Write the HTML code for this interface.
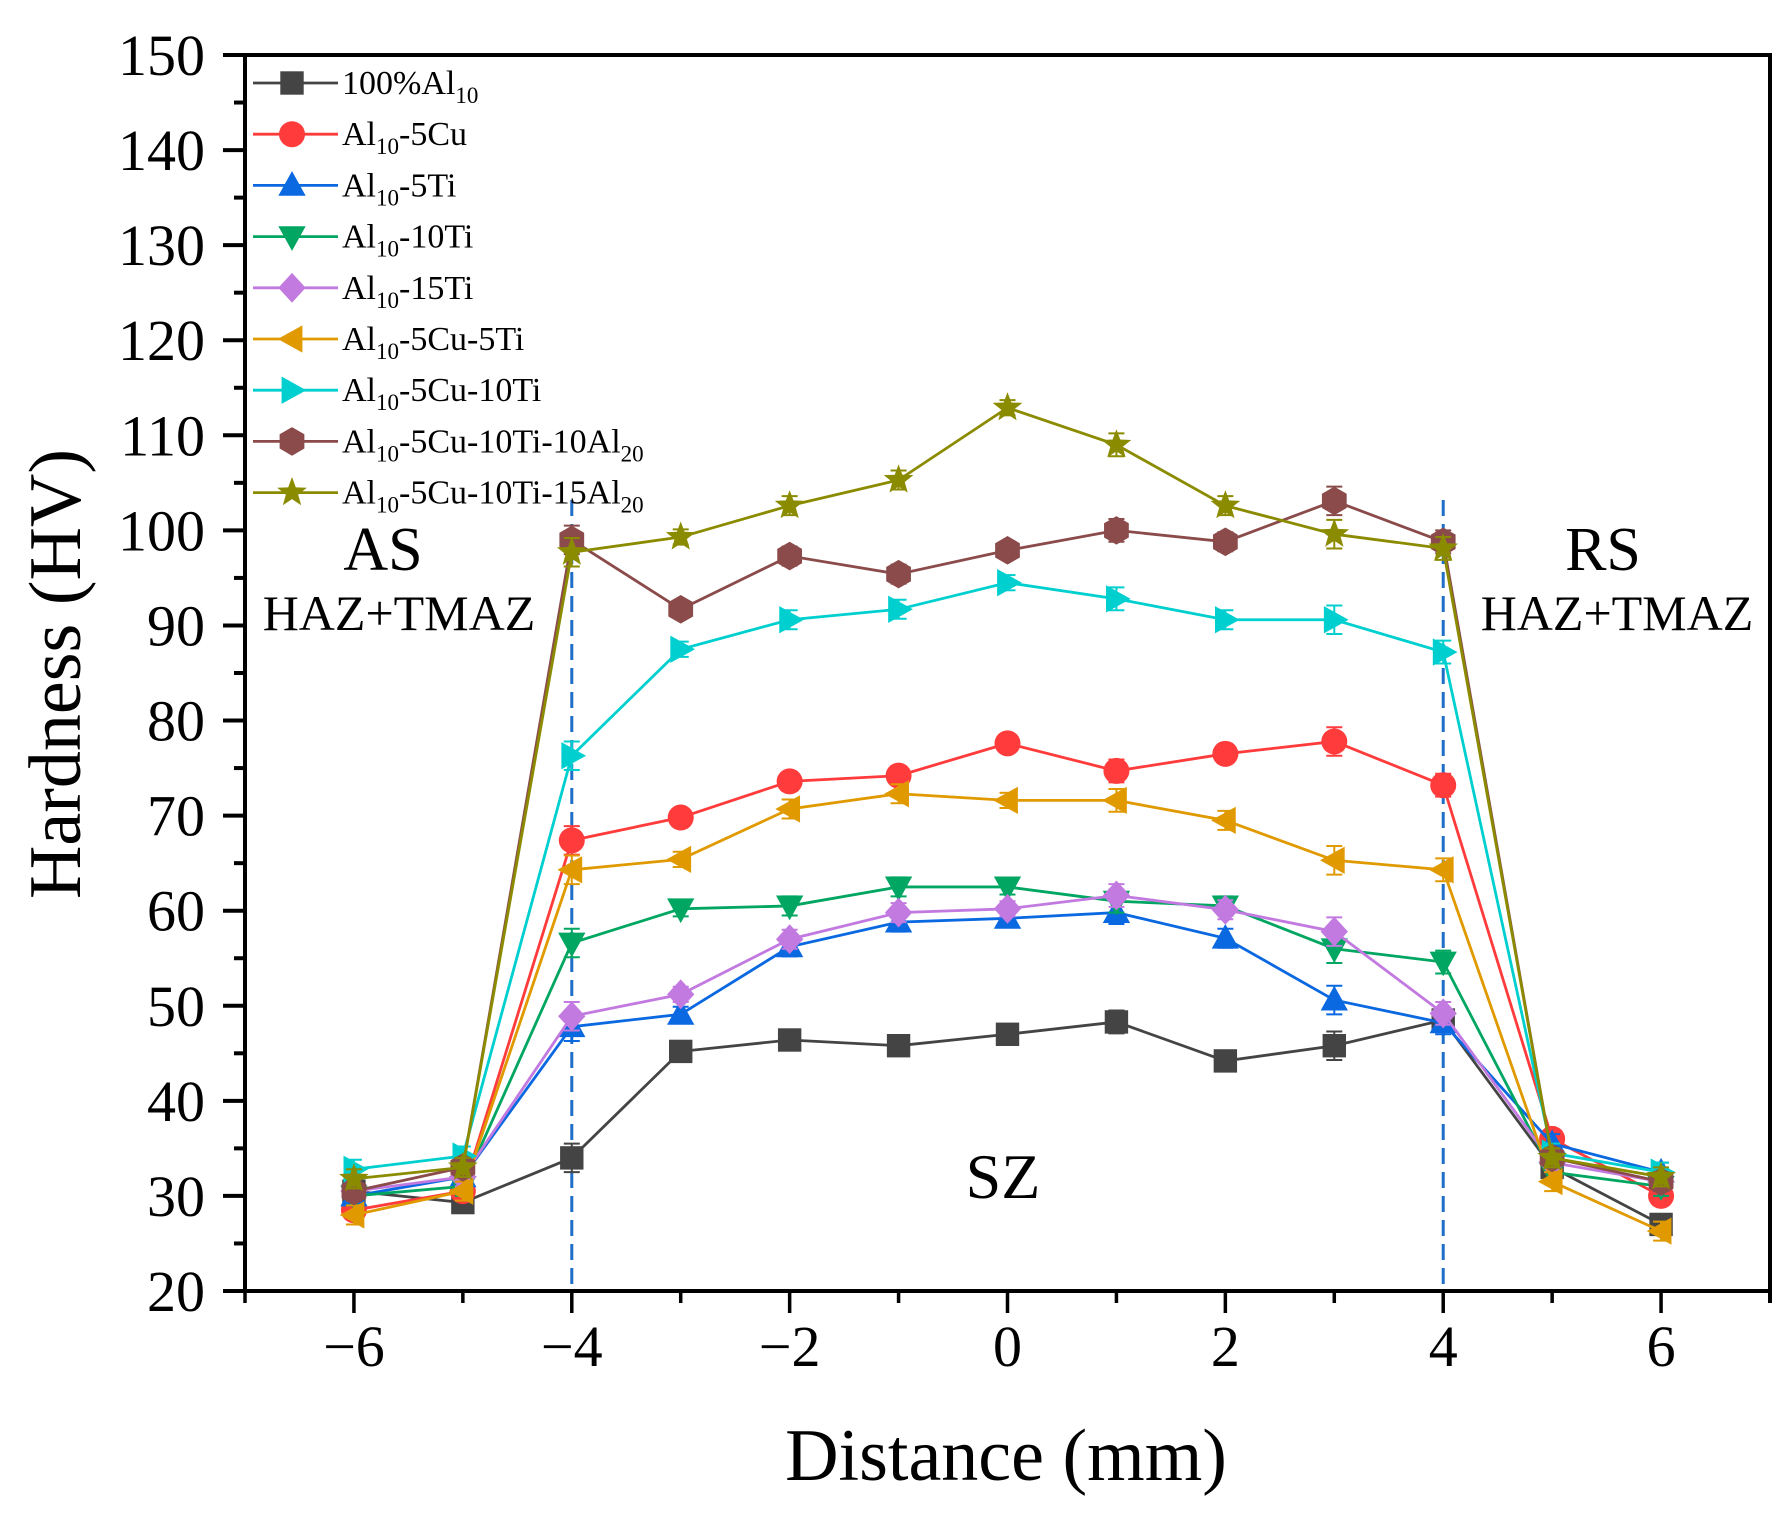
<!DOCTYPE html>
<html><head><meta charset="utf-8"><style>
html,body{margin:0;padding:0;background:#fff;}
svg{display:block;font-family:"Liberation Serif",serif;}
</style></head><body>
<svg id="chart" width="1792" height="1513" viewBox="0 0 1792 1513" xmlns="http://www.w3.org/2000/svg"></svg>
<script>
const xValues = [-6,-5,-4,-3,-2,-1,0,1,2,3,4,5,6];
const xTicks = [-6,-4,-2,0,2,4,6];
const xTickLabels = ["\u22126","\u22124","\u22122","0","2","4","6"];
const yTicks = [20,30,40,50,60,70,80,90,100,110,120,130,140,150];
const sAl10 = [30.5,29.3,34,45.2,46.4,45.8,47,48.3,44.2,45.8,48.5,33,27];
const s5Cu = [28.5,30.5,67.4,69.8,73.6,74.2,77.6,74.7,76.5,77.8,73.2,36,30];
const s5Ti = [30,32,47.8,49.1,56.2,58.8,59.2,59.8,57.1,50.6,48.2,35.5,32.5];
const s10Ti = [30,31,56.6,60.2,60.5,62.5,62.5,61,60.5,56,54.6,32.5,31];
const s15Ti = [30.5,32,48.9,51.2,57,59.8,60.2,61.6,60.1,57.8,49.2,33.5,31.5];
const s5Cu5Ti = [28,30.5,64.3,65.4,70.7,72.3,71.6,71.6,69.5,65.3,64.3,31.5,26.3];
const s5Cu10Ti = [32.8,34.2,76.3,87.5,90.6,91.7,94.5,92.8,90.6,90.6,87.2,34.5,32.5];
const s10Al20 = [30.5,33,99,91.7,97.3,95.4,97.9,100,98.8,103.1,98.8,34,31.5];
const s15Al20 = [31.8,33,97.7,99.3,102.6,105.3,112.9,109,102.6,99.6,98.1,34,32];
const errAll = [1,1,1.5,0.8,1,1,0.8,1.2,1,1.5,1.2,1,1];
const seriesNames = ["100%Al10","Al10-5Cu","Al10-5Ti","Al10-10Ti","Al10-15Ti","Al10-5Cu-5Ti","Al10-5Cu-10Ti","Al10-5Cu-10Ti-10Al20","Al10-5Cu-10Ti-15Al20"];
const seriesData = [sAl10,s5Cu,s5Ti,s10Ti,s15Ti,s5Cu5Ti,s5Cu10Ti,s10Al20,s15Al20];
const colors = ["#444444","#ff3b3b","#0a68e0","#00a661","#c27ae0","#e09a00","#00cfcf","#8b4b4b","#8b8b00"];
const shapes = ["square","circle","up","down","diamond","left","right","hex","star"];

const L=245,R=1770,T=55,B=1291;
const xMin=-7,xMax=7,yMin=20,yMax=150;
const X=v=>L+(v-xMin)/(xMax-xMin)*(R-L);
const Y=v=>B-(v-yMin)/(yMax-yMin)*(B-T);
const svg=document.getElementById('chart');
const NS="http://www.w3.org/2000/svg";
function mk(tag,attrs,parent){const e=document.createElementNS(NS,tag);for(const k in attrs)e.setAttribute(k,attrs[k]);(parent||svg).appendChild(e);return e;}

function marker(shape,cx,cy,s,color,parent){
  let e;const r=s/2;
  if(shape==="square") e=mk('rect',{x:cx-r*0.9,y:cy-r*0.9,width:s*0.9,height:s*0.9,fill:color},parent);
  else if(shape==="circle") e=mk('circle',{cx:cx,cy:cy,r:r,fill:color},parent);
  else {
    let pts=[];
    if(shape==="up") pts=[[0,-r*1.1],[r*1.05,r*0.8],[-r*1.05,r*0.8]];
    if(shape==="down") pts=[[0,r*1.1],[r*1.05,-r*0.8],[-r*1.05,-r*0.8]];
    if(shape==="left") pts=[[-r*1.1,0],[r*0.8,-r*1.05],[r*0.8,r*1.05]];
    if(shape==="right") pts=[[r*1.1,0],[-r*0.8,-r*1.05],[-r*0.8,r*1.05]];
    if(shape==="diamond") pts=[[0,-r*1.15],[r*1.05,0],[0,r*1.15],[-r*1.05,0]];
    if(shape==="hex"){for(let i=0;i<6;i++){const a=Math.PI/6+i*Math.PI/3;pts.push([r*1.1*Math.cos(a),r*1.1*Math.sin(a)]);}}
    if(shape==="star"){for(let i=0;i<10;i++){const a=-Math.PI/2+i*Math.PI/5;const rr=i%2?r*0.5:r*1.2;pts.push([rr*Math.cos(a),rr*Math.sin(a)]);}}
    e=mk('polygon',{points:pts.map(p=>(cx+p[0])+','+(cy+p[1])).join(' '),fill:color},parent);
  }
  return e;
}

[-4,4].forEach(v=>{
  const l=mk('line',{x1:X(v),x2:X(v),y1:500,y2:B,stroke:"#1f6fc8","stroke-width":3,"stroke-dasharray":"16,8"});
  
  
});

seriesData.forEach((d,si)=>{
  const g=mk('g',{});
  
  
  mk('polyline',{points:d.map((v,i)=>X(xValues[i])+','+Y(v)).join(' '),fill:'none',stroke:colors[si],'stroke-width':2.8},g);
  d.forEach((v,i)=>{
    const cx=X(xValues[i]),e=errAll[i];
    mk('line',{x1:cx,x2:cx,y1:Y(v+e),y2:Y(v-e),stroke:colors[si],'stroke-width':2},g);
    mk('line',{x1:cx-8,x2:cx+8,y1:Y(v+e),y2:Y(v+e),stroke:colors[si],'stroke-width':2},g);
    mk('line',{x1:cx-8,x2:cx+8,y1:Y(v-e),y2:Y(v-e),stroke:colors[si],'stroke-width':2},g);
    const m=marker(shapes[si],cx,Y(v),26,colors[si],g);
    
    
  });
});

const ax=mk('g',{});


mk('line',{x1:L-2,x2:R+2,y1:T,y2:T,stroke:'#000','stroke-width':4},ax);
mk('line',{x1:L-2,x2:R+2,y1:B,y2:B,stroke:'#000','stroke-width':4},ax);
mk('line',{x1:L,x2:L,y1:T,y2:B,stroke:'#000','stroke-width':4},ax);
mk('line',{x1:R,x2:R,y1:T,y2:B+12,stroke:'#000','stroke-width':4},ax);
yTicks.forEach(v=>{
  mk('line',{x1:L-22,x2:L,y1:Y(v),y2:Y(v),stroke:'#000','stroke-width':4},ax);
  if(v<150) mk('line',{x1:L-11,x2:L,y1:Y(v+5),y2:Y(v+5),stroke:'#000','stroke-width':4},ax);
  const t=mk('text',{x:205,y:Y(v)+20,'text-anchor':'end','font-size':58},ax);
  t.textContent=v;
  
  
});
for(let v=-7;v<=7;v++){
  const major=xTicks.includes(v);
  mk('line',{x1:X(v),x2:X(v),y1:B,y2:B+(major?22:12),stroke:'#000','stroke-width':3.5},ax);
}
xTicks.forEach((v,i)=>{
  const t=mk('text',{x:X(v),y:1366,'text-anchor':'middle','font-size':58},ax);
  t.textContent=xTickLabels[i];
  
  
});

let t=mk('text',{x:1006,y:1480,'text-anchor':'middle','font-size':74});
t.textContent="Distance (mm)";


t=mk('text',{x:0,y:0,'text-anchor':'middle','font-size':74,transform:'translate(80,674) rotate(-90)'});
t.textContent="Hardness (HV)";



const ann=[["AS",383,570,62],["HAZ+TMAZ",399,630,50],["RS",1603,570,62],["HAZ+TMAZ",1617,630,50],["SZ",1003,1198,64]];
ann.forEach(a=>{
  const e=mk('text',{x:a[1],y:a[2],'text-anchor':'middle','font-size':a[3]});
  e.textContent=a[0];
  
  
});

const lg=mk('g',{});


seriesNames.forEach((n,i)=>{
  const y=83+i*51.2;
  const g=mk('g',{},lg);
  
  
  mk('line',{x1:253,x2:338,y1:y,y2:y,stroke:colors[i],'stroke-width':2.8},g);
  marker(shapes[i],292,y,26,colors[i],g);
  const tx=mk('text',{x:342,y:y+11,'font-size':34},g);
  const parts=n.split(/(Al10|Al20)/).filter(p=>p);
  parts.forEach(p=>{
    if(p==="Al10"||p==="Al20"){
      const a=mk('tspan',{},tx);a.textContent="Al";
      const s=mk('tspan',{'font-size':23,dy:9},tx);s.textContent=p.slice(2);
      const b=mk('tspan',{dy:-9},tx);b.textContent="\u200b";
    } else {const a=mk('tspan',{},tx);a.textContent=p;}
  });
});
</script>
</body></html>
